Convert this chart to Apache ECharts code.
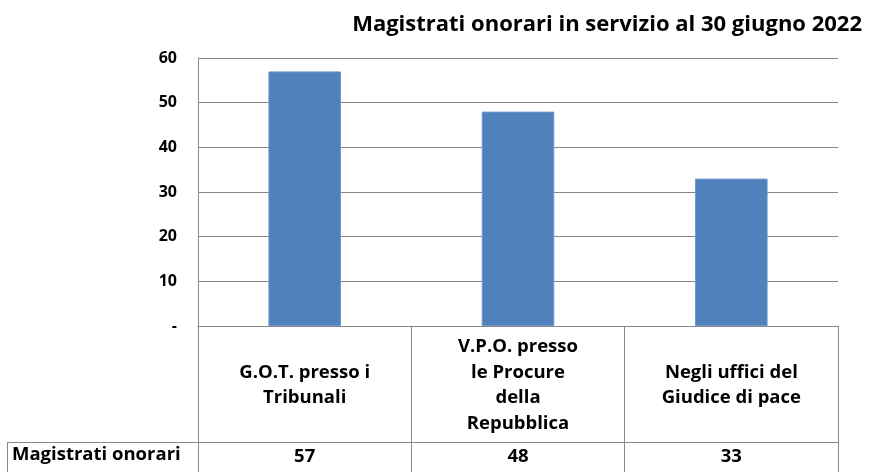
<!DOCTYPE html>
<html>
<head>
<meta charset="utf-8">
<script src="https://cdn.jsdelivr.net/npm/echarts@6/dist/echarts.min.js"></script>
<style>
  html, body { margin: 0; padding: 0; background: #fff; }
  #chart { width: 869px; height: 472px; }
</style>
</head>
<body>
<div id="chart"></div>
<script>
// dati
var titolo = 'Magistrati onorari in servizio al 30 giugno 2022';
var categorie = ['G.O.T. presso i\nTribunali', 'V.P.O. presso\nle Procure\ndella\nRepubblica', 'Negli uffici del\nGiudice di pace'];
var serieNome = 'Magistrati onorari';
var valori = [57, 48, 33];

var grigio = '#888888';
var font = 'Open Sans';

var myChart = echarts.init(document.getElementById('chart'));
var option = {
    animation: false,
    title: {
        text: titolo,
        right: 2,
        top: 9,
        textStyle: { fontFamily: font, fontSize: 22, fontWeight: 'bold', color: '#000' }
    },
    grid: { left: 198, right: 31, top: 58, bottom: 146 },
    xAxis: [
        {
            type: 'category',
            data: categorie,
            position: 'bottom',
            axisLine: { show: true, lineStyle: { color: grigio, width: 1 } },
            axisTick: { show: true, interval: 0, length: 146, lineStyle: { color: grigio } },
            axisLabel: {
                interval: 0,
                margin: 59,
                verticalAlign: 'middle',
                lineHeight: 25.5,
                fontFamily: font, fontSize: 18.5, fontWeight: 'bold', color: '#000'
            }
        },
        {
            type: 'category',
            data: valori.map(String),
            position: 'bottom',
            offset: 116,
            axisLine: { show: true, lineStyle: { color: grigio, width: 1 } },
            axisTick: { show: false },
            axisLabel: {
                interval: 0,
                margin: 5,
                fontFamily: font, fontSize: 18.5, fontWeight: 'bold', color: '#000'
            }
        }
    ],
    yAxis: {
        type: 'value',
        min: 0,
        max: 60,
        interval: 10,
        axisLine: { show: true, lineStyle: { color: grigio } },
        axisTick: { show: false },
        splitLine: { lineStyle: { color: grigio, width: 1 } },
        axisLabel: {
            margin: 21,
            fontFamily: font, fontSize: 16, fontWeight: 'bold', color: '#000',
            formatter: function (v) { return v === 0 ? '-' : v; }
        }
    },
    series: [
        {
            name: serieNome,
            type: 'bar',
            data: valori,
            barWidth: '34%',
            itemStyle: { color: '#4F81BD', borderColor: '#6E98CC', borderWidth: 1 }
        }
    ],
    graphic: [
        { type: 'line', shape: { x1: 7, y1: 442.5, x2: 198, y2: 442.5 }, style: { stroke: grigio, lineWidth: 1 } },
        { type: 'line', shape: { x1: 7.5, y1: 442, x2: 7.5, y2: 472 }, style: { stroke: grigio, lineWidth: 1 } },
        {
            type: 'text', left: 12, top: 445,
            style: { text: serieNome, fontFamily: font, fontSize: 18.5, fontWeight: 'bold', fill: '#000' }
        }
    ]
};
myChart.setOption(option);
</script>
</body>
</html>
